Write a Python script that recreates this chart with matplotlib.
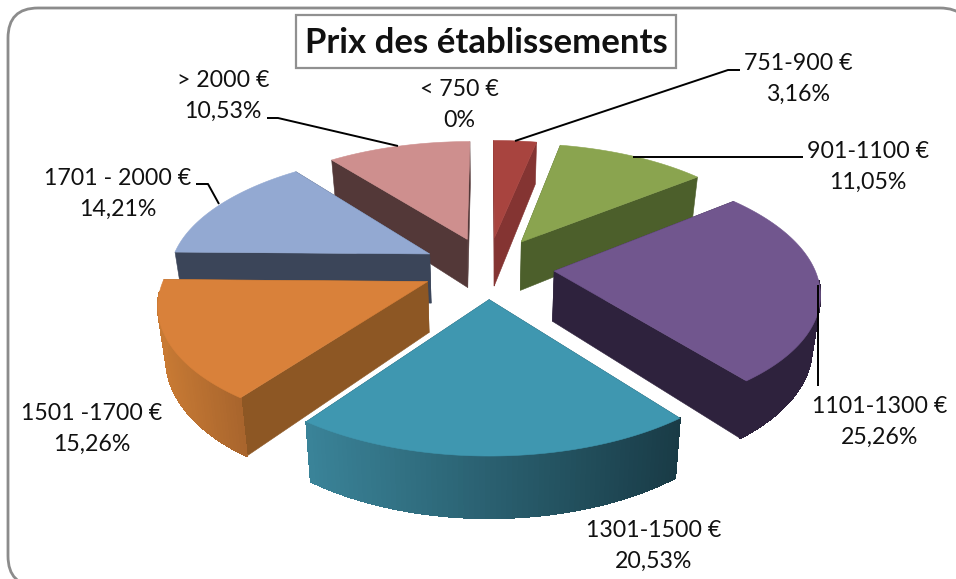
import numpy as np
import matplotlib
matplotlib.use("Agg")
import matplotlib.pyplot as plt
from matplotlib.patches import Polygon, FancyBboxPatch, Rectangle
from matplotlib.collections import PolyCollection
from matplotlib.colors import to_rgb

plt.rcParams['font.family'] = ['Lato', 'DejaVu Sans']

categories = ["< 750 €", "751-900 €", "901-1100 €", "1101-1300 €", "1301-1500 €",
              "1501 -1700 €", "1701 - 2000 €", "> 2000 €"]
values = [0, 3.16, 11.05, 25.26, 20.53, 15.26, 14.21, 10.53]
pct_labels = ["0%", "3,16%", "11,05%", "25,26%", "20,53%", "15,26%", "14,21%", "10,53%"]
title = "Prix des établissements"

top_colors = ["#4F81BD", "#A8443F", "#8AA44F", "#71568E", "#3F97B0", "#D9813A", "#93A9D2", "#CE8F8E"]
cut_colors = ["#333333", "#843432", "#4C5F2B", "#2E223D", "#1D4552", "#8D5724", "#3B4559", "#533838"]
arc_left = ["#333333", "#A8443F", "#4C5F2B", "#2E223D", "#3A8398", "#C87A34", "#3B4559", "#533838"]
arc_right = ["#333333", "#843432", "#4C5F2B", "#2E223D", "#193B46", "#A8652D", "#3B4559", "#533838"]

label_pos = [(459, 105), (798, 79), (868, 167), (880, 422), (654, 546), (92, 429), (118, 194), (223, 96)]
leaders = [None,
           [(515, 141), (728, 70), (740, 70)],
           [(633, 156.5), (803, 156.5)],
           [(818, 285), (818, 386)],
           None, None,
           [(219, 204), (208, 184), (196, 184)],
           [(398, 146), (278, 118), (267, 118)]]

CX, CY, R, RY, K, EXPL, DEPTH, TAPER = 488, 267.5, 260, 121, 0.155, 0.255, 50, 0.025


def project(X, Y, Z=0.0):
    s = 1.0 / (1.0 + K * np.asarray(Y))
    return CX + R * np.asarray(X) * s * (1 - TAPER * Z), CY - RY * np.asarray(Y) * s + DEPTH * Z * s


fig = plt.figure(figsize=(9.56, 5.79), dpi=100)
ax = fig.add_axes([0, 0, 1, 1])
ax.set_xlim(0, 956)
ax.set_ylim(579, 0)
ax.axis('off')

ax.add_patch(FancyBboxPatch((8, 8), 962, 578, boxstyle="round,pad=0,rounding_size=30",
                            fc="white", ec="#8C8C8C", lw=2, zorder=0))

edges = np.cumsum([0] + values) / sum(values) * 2 * np.pi
wedges = []
for i, v in enumerate(values):
    if v <= 0:
        continue
    a0, a1 = edges[i], edges[i + 1]
    mid = (a0 + a1) / 2
    wedges.append((i, a0, a1, EXPL * np.sin(mid), EXPL * np.cos(mid)))

parts = []
for i, a0, a1, ox, oy in wedges:
    th = np.linspace(a0, a1, max(6, int((a1 - a0) * 60)))
    X = ox + np.sin(th)
    Y = oy + np.cos(th)
    x0, y0 = project(X, Y, 0)
    x1, y1 = project(X, Y, 1)
    quads, cols = [], []
    cl, cr = np.array(to_rgb(arc_left[i])), np.array(to_rgb(arc_right[i]))
    xmin, xmax = x0.min(), x0.max()
    for j in range(len(th) - 1):
        if np.cos((th[j] + th[j + 1]) / 2) > -0.08:
            continue  # back of the rim, hidden by the top face
        quads.append([(x0[j], y0[j]), (x0[j + 1], y0[j + 1]), (x1[j + 1], y1[j + 1]), (x1[j], y1[j])])
        t = ((x0[j] + x0[j + 1]) / 2 - xmin) / (xmax - xmin)
        cols.append(cl + (cr - cl) * t)
    if quads:
        parts.append((np.mean(Y), 'arc', i, quads, cols))
    for a in (a0, a1):
        Xe = np.array([ox, ox + np.sin(a)])
        Ye = np.array([oy, oy + np.cos(a)])
        xa, ya = project(Xe, Ye, 0)
        xb, yb = project(Xe, Ye, 1)
        parts.append((np.mean(Ye), 'cut', i, [(xa[0], ya[0]), (xa[1], ya[1]), (xb[1], yb[1]), (xb[0], yb[0])], None))

order = [7, 1, 2, 6, 3, 5, 4]
z = 2.0
for i in order:
    own = sorted([p for p in parts if p[2] == i], key=lambda p: -p[0])
    for p in own:
        z += 0.01
        if p[1] == 'arc':
            ax.add_collection(PolyCollection(p[3], facecolors=p[4], edgecolors=p[4], linewidths=0.8,
                                             antialiaseds=False, zorder=z))
        else:
            ax.add_patch(Polygon(p[3], closed=True, fc=cut_colors[i], ec=cut_colors[i], lw=0.4, zorder=z))
    w = [q for q in wedges if q[0] == i][0]
    th = np.linspace(w[1], w[2], 120)
    X = np.r_[w[3], w[3] + np.sin(th)]
    Y = np.r_[w[4], w[4] + np.cos(th)]
    xt, yt = project(X, Y, 0)
    z += 0.01
    ax.add_patch(Polygon(np.c_[xt, yt], closed=True, fc=top_colors[i], ec=top_colors[i], lw=0.4, zorder=z))

for pts in leaders:
    if pts:
        xs, ys = zip(*pts)
        ax.plot(xs, ys, color="black", lw=1.4, zorder=30, solid_capstyle='butt')

for c, p, pos in zip(categories, pct_labels, label_pos):
    ax.text(pos[0], pos[1], f"{c}\n{p}", ha='center', va='center', fontsize=16.7,
            linespacing=1.56, color="#111111", zorder=40)

ax.add_patch(Rectangle((296, 15), 380, 53, fc="white", ec="#909090", lw=1.6, zorder=35))
ax.text(486, 43, title, ha='center', va='center', fontsize=25, fontweight='bold', color="#111111", zorder=40)

fig.savefig("out.png", dpi=100, facecolor="white")
